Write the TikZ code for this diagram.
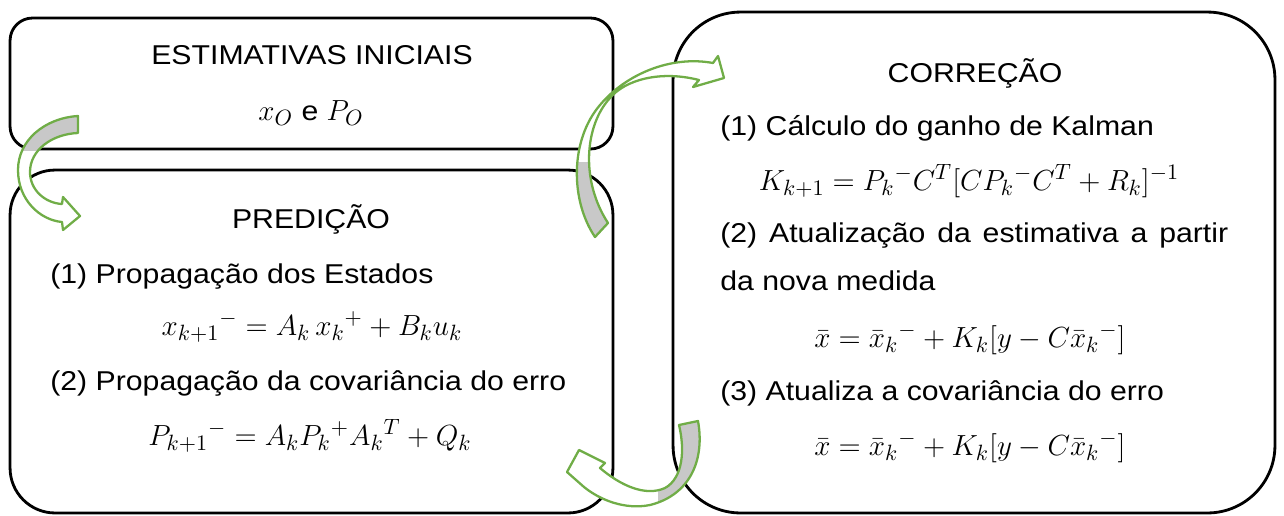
\documentclass[tikz,border=0pt]{standalone}
\usepackage{fontspec}
\setmainfont{Liberation Sans}[FakeStretch=1.11]
\usepackage{amsmath, amssymb}
\usepackage{graphicx}
\definecolor{arrowgreen}{RGB}{112,173,71}
\definecolor{arrowgray}{RGB}{200,200,200}
\tikzstyle{every node} = [inner sep=0pt, font=\fontsize{15.5}{18}\selectfont]
\tikzstyle{box} = [draw, line width=1.6pt]
\tikzstyle{bend arrow} = [draw=arrowgreen, line width=1.3pt, line join=round]
\newcommand{\eqn}[1]{\scalebox{1.15}{$#1$}}

\begin{document}
\begin{tikzpicture}[x=0.02cm, y=-0.02cm]
    \useasboundingbox (0,0) rectangle (1284,515);

    \node[box, minimum width=12.06cm, minimum height=2.62cm, rounded corners=0.45cm] (est) at (311.5,83.5) {};
    \node[box, minimum width=12.06cm, minimum height=6.86cm, rounded corners=0.9cm] (pred) at (311.5,341.5) {};
    \node[box, minimum width=12.04cm, minimum height=10.02cm, rounded corners=1.35cm] (corr) at (974,262.5) {};

    \node[anchor=base] (esttitle) at (312,64) {ESTIMATIVAS INICIAIS};
    \node[anchor=base] (estvals) at (311,120) {\eqn{x_O} e \eqn{P_O}};

    \node[anchor=base] (predtitle) at (311,228) {PREDIÇÃO};
    \node[anchor=base west] (prop1) at (50,283) {(1) Propagação dos Estados};
    \node[anchor=base] (prop1eq) at (312,335) {\eqn{x_{k+1}{}^{-} = A_k\, x_k{}^{+} + B_k u_k}};
    \node[anchor=base west] (prop2) at (50,390) {(2) Propagação da covariância do erro};
    \node[anchor=base] (prop2eq) at (310,445) {\eqn{P_{k+1}{}^{-} = A_k P_k{}^{+} A_k{}^{T} + Q_k}};

    \node[anchor=base] (corrtitle) at (975,82) {CORREÇÃO};
    \node[anchor=base west] (calc1) at (720,135) {(1) Cálculo do ganho de Kalman};
    \node[anchor=base] (calc1eq) at (969,190) {\eqn{K_{k+1} = P_k{}^{-} C^T [C P_k{}^{-} C^T + R_k]^{-1}}};
    \node[anchor=base west] (calc2) at (720,242) {\makebox[10.16cm][s]{(2) Atualização da estimativa a partir}};
    \node[anchor=base west] (calc2b) at (720,290) {da nova medida};
    \node[anchor=base] (calc2eq) at (970,347) {\eqn{\bar{x} = \bar{x}_k{}^{-} + K_k[y - C\bar{x}_k{}^{-}]}};
    \node[anchor=base west] (calc3) at (720,400) {(3) Atualiza a covariância do erro};
    \node[anchor=base] (calc3eq) at (970,455) {\eqn{\bar{x} = \bar{x}_k{}^{-} + K_k[y - C\bar{x}_k{}^{-}]}};

    \path[save path=\arrowinit] (78,116) .. controls (45,118) and (18,140) .. (18,170)
        .. controls (18,200) and (40,220) .. (62,222) -- (63,230) -- (80,216) -- (63,197) -- (62,204)
        .. controls (45,203) and (30,190) .. (30,172) .. controls (30,150) and (52,134) .. (78,133) -- cycle;
    \path[save path=\arrowpred] (595,237) .. controls (570,200) and (570,140) .. (600,105)
        .. controls (625,75) and (670,55) .. (713,63) -- (718,56) -- (724,78) -- (693,87) -- (699,80)
        .. controls (660,70) and (625,80) .. (610,98) .. controls (585,125) and (580,180) .. (608,223) -- cycle;
    \path[save path=\arrowcorr] (698,421) .. controls (705,460) and (690,495) .. (650,505)
        .. controls (625,510) and (600,500) .. (584,487) -- (567,472) -- (579,450) -- (605,463) -- (600,468)
        .. controls (620,485) and (645,497) .. (665,488) .. controls (683,478) and (685,450) .. (679,425) -- cycle;

    \fill[white, use path=\arrowinit];
    \fill[white, use path=\arrowpred];
    \fill[white, use path=\arrowcorr];
    \begin{scope}
        \clip (0,100) rectangle (100,150);
        \fill[arrowgray, use path=\arrowinit];
    \end{scope}
    \begin{scope}
        \clip (540,162) rectangle (640,250);
        \fill[arrowgray, use path=\arrowpred];
    \end{scope}
    \begin{scope}
        \clip (658,400) rectangle (720,515);
        \fill[arrowgray, use path=\arrowcorr];
    \end{scope}
    \draw[bend arrow, use path=\arrowinit];
    \draw[bend arrow, use path=\arrowpred];
    \draw[bend arrow, use path=\arrowcorr];
\end{tikzpicture}
\end{document}
